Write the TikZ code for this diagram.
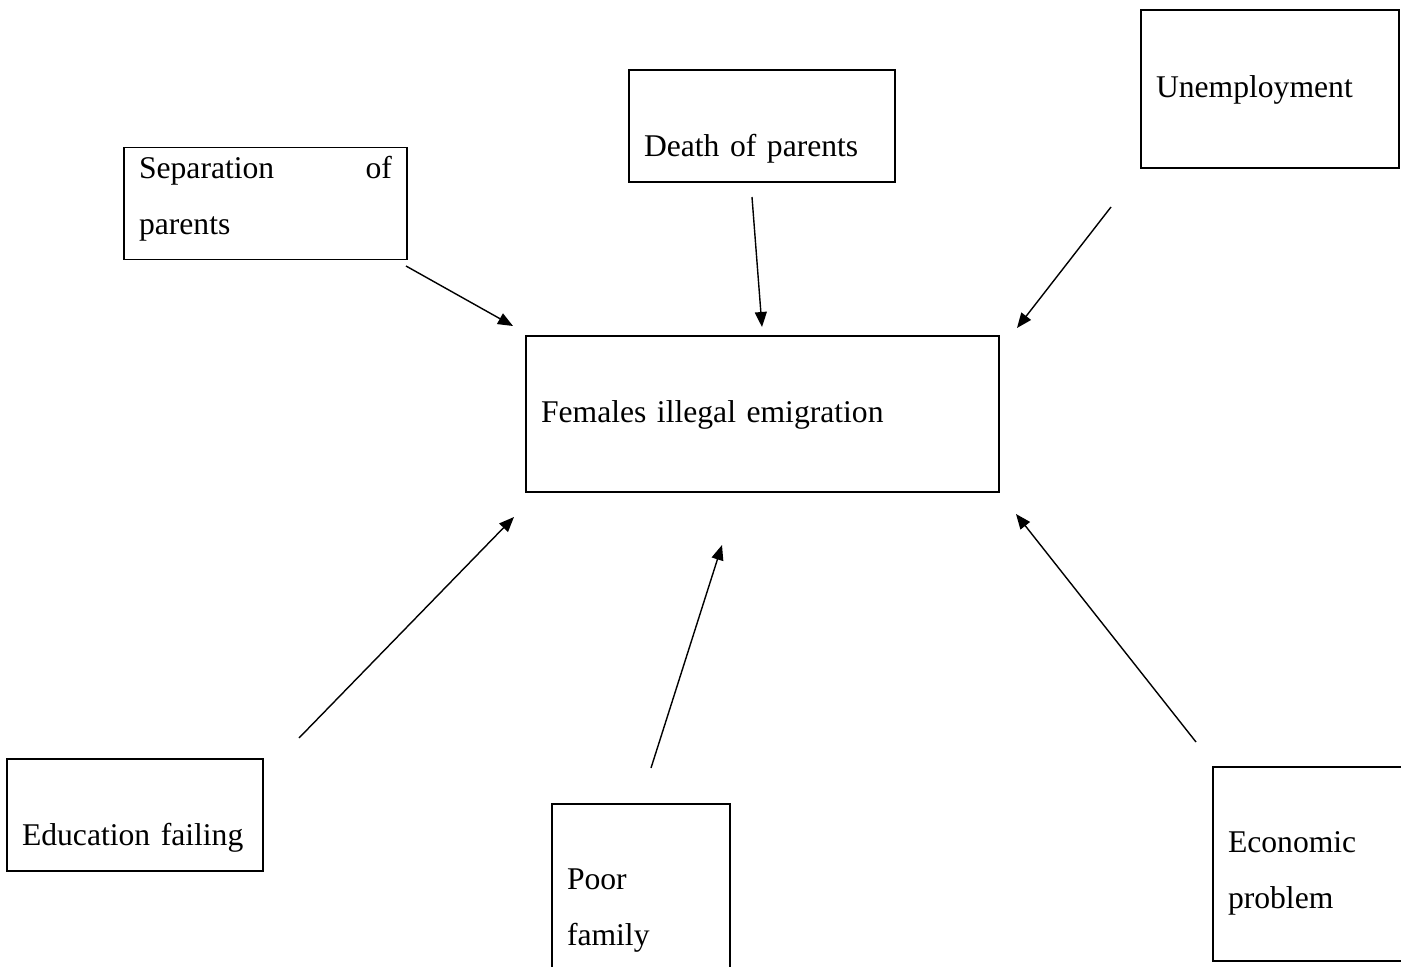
\documentclass[tikz,border=0pt]{standalone}
\usepackage{fontspec}
\setmainfont{Liberation Serif}
\usetikzlibrary{arrows.meta}
\tikzstyle{cause} = [rectangle, draw=black, line width=0.7pt, inner xsep=0.3cm, align=left, font=\fontsize{18}{32}\selectfont]
\tikzstyle{arrow} = [line width=0.8pt, -{Triangle[length=0.3cm,width=0.24cm]}]

\begin{document}
\begin{tikzpicture}[x=0.02cm, y=-0.02cm]
\clip (0,0) rectangle (1401,967);
\node (effect) [cause, text width=8.86cm, minimum height=3.12cm, text height=0.42cm, text depth=0.1cm] at (762.5,414) {Females illegal emigration};
\node (separation) [cause, text width=5.06cm, minimum height=2.22cm, text height=0.5cm, text depth=1.52cm] at (265.5,203.5) {Separation \hfill of\\parents};
\node (death) [cause, text width=4.72cm, minimum height=2.24cm, text height=1.34cm, text depth=0.1cm] at (762,126) {Death of parents};
\node (unemployment) [cause, text width=4.56cm, minimum height=3.16cm, text height=0.42cm, text depth=0.1cm] at (1270,89) {Unemployment};
\node (education) [cause, text width=4.52cm, minimum height=2.24cm, text height=1.3cm, text depth=0.1cm] at (135,815) {Education failing};
\node (poor) [cause, text width=2.96cm, minimum height=4.24cm, text height=0.5cm, text depth=1.34cm] at (641,910) {Poor\\family};
\node (economic) [cause, text width=3.44cm, minimum height=3.88cm, text height=0.5cm, text depth=0.98cm] at (1314,864) {Economic\\problem};
% arrow ends
\coordinate (s1) at (406,266);
\coordinate (s2) at (513,326);
\coordinate (d1) at (752,197);
\coordinate (d2) at (762,327);
\coordinate (u1) at (1111,207);
\coordinate (u2) at (1017,328);
\coordinate (e1) at (299,738);
\coordinate (e2) at (514,517);
\coordinate (p1) at (651,768);
\coordinate (p2) at (722,545);
\coordinate (c1) at (1196,742);
\coordinate (c2) at (1016,514);
\draw [arrow] (s1) -- (s2);
\draw [arrow] (d1) -- (d2);
\draw [arrow] (u1) -- (u2);
\draw [arrow] (e1) -- (e2);
\draw [arrow] (p1) -- (p2);
\draw [arrow] (c1) -- (c2);
\end{tikzpicture}
\end{document}
